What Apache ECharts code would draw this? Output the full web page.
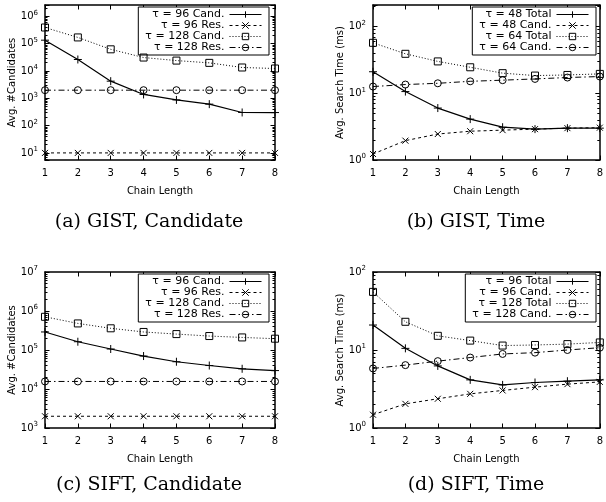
<!DOCTYPE html>
<html>
<head>
<meta charset="utf-8">
<script src="https://cdn.jsdelivr.net/npm/echarts@6/dist/echarts.min.js"></script>
<style>
  html, body { margin: 0; padding: 0; background: #fff; }
  #chart { width: 606px; height: 502px; }
</style>
</head>
<body>
<div id="chart"></div>
<script>
  var chainLength = ['1', '2', '3', '4', '5', '6', '7', '8'];

  // (a) GIST, Candidate
  var gistCand96 = [134000, 26300, 4230, 1380, 870, 610, 302, 300];
  var gistRes96 = [10, 10, 10, 10, 10, 10, 10, 10];
  var gistCand128 = [390000, 169000, 62000, 31000, 24000, 19800, 13400, 12300];
  var gistRes128 = [1980, 1980, 1980, 1980, 1980, 1980, 1980, 1980];

  // (b) GIST, Time (ms)
  var gistTotal48 = [21, 10.6, 6.0, 4.1, 3.1, 2.9, 3.0, 3.0];
  var gistCandT48 = [1.23, 1.95, 2.45, 2.7, 2.8, 2.9, 3.0, 3.05];
  var gistTotal64 = [57, 39, 30, 24.5, 20, 18.4, 18.8, 19.5];
  var gistCandT64 = [12.6, 13.5, 14.1, 15.1, 15.7, 16.4, 17.2, 17.8];

  // (c) SIFT, Candidate
  var siftCand96 = [290000, 163000, 106000, 70000, 50000, 40000, 33000, 29700];
  var siftRes96 = [2000, 2000, 2000, 2000, 2000, 2000, 2000, 2000];
  var siftCand128 = [710000, 480000, 360000, 290000, 256000, 228000, 210000, 195000];
  var siftRes128 = [15600, 15600, 15600, 15600, 15600, 15600, 15600, 15600];

  // (d) SIFT, Time (ms)
  var siftTotal96 = [20.9, 10.5, 6.25, 4.14, 3.57, 3.83, 3.98, 4.14];
  var siftCandT96 = [1.48, 2.04, 2.37, 2.74, 3.03, 3.34, 3.65, 3.9];
  var siftTotal128 = [55.6, 23, 15.2, 13.2, 11.4, 11.6, 11.9, 12.5];
  var siftCandT128 = [5.8, 6.4, 7.2, 8.0, 8.9, 9.25, 10, 10.7];

  var sans = '"DejaVu Sans", sans-serif';
  var serif = '"DejaVu Serif", serif';

  // gnuplot-like point types: +, x, open square, open circle
  var marks = [
    { symbol: 'path://M0,5H10M5,0V10', size: 8, dash: 'solid', width: 1.2 },
    { symbol: 'path://M0,0L10,10M10,0L0,10', size: 6, dash: [3, 3], width: 1 },
    { symbol: 'path://M0,0H10V10H0Z', size: 7, dash: [1, 2], width: 1 },
    { symbol: 'path://M5,0A5,5,0,1,1,5,10A5,5,0,1,1,5,0Z', size: 7, dash: [6, 3, 1.5, 3], width: 1 }
  ];

  var panels = [
    {
      key: 'a', caption: '(a) GIST, Candidate', yName: 'Avg. #Candidates',
      min: 5.5, max: 2.6e6, grid: { left: 45, top: 5, width: 230, height: 155 },
      legendRight: 337, legendTop: 7, capX: 149, capY: 222,
      names: ['τ = 96 Cand.', 'τ = 96 Res.', 'τ = 128 Cand.', 'τ = 128 Res.'],
      values: [gistCand96, gistRes96, gistCand128, gistRes128]
    },
    {
      key: 'b', caption: '(b) GIST, Time', yName: 'Avg. Search Time (ms)',
      min: 1, max: 210, grid: { left: 373, top: 5, width: 230, height: 155 },
      legendRight: 10, legendTop: 7, capX: 476, capY: 222,
      names: ['τ = 48 Total', 'τ = 48 Cand.', 'τ = 64 Total', 'τ = 64 Cand.'],
      values: [gistTotal48, gistCandT48, gistTotal64, gistCandT64]
    },
    {
      key: 'c', caption: '(c) SIFT, Candidate', yName: 'Avg. #Candidates',
      min: 1000, max: 1e7, grid: { left: 45, top: 272, width: 230, height: 156 },
      legendRight: 337, legendTop: 274, capX: 149, capY: 485,
      names: ['τ = 96 Cand.', 'τ = 96 Res.', 'τ = 128 Cand.', 'τ = 128 Res.'],
      values: [siftCand96, siftRes96, siftCand128, siftRes128]
    },
    {
      key: 'd', caption: '(d) SIFT, Time', yName: 'Avg. Search Time (ms)',
      min: 1, max: 100, grid: { left: 373, top: 272, width: 230, height: 156 },
      legendRight: 10, legendTop: 274, capX: 476, capY: 485,
      names: ['τ = 96 Total', 'τ = 96 Cand.', 'τ = 128 Total', 'τ = 128 Cand.'],
      values: [siftTotal96, siftCandT96, siftTotal128, siftCandT128]
    }
  ];

  function powLabel(v) {
    var e = Math.round(Math.log10(v));
    if (Math.abs(Math.log10(v) - e) > 1e-6) return '';
    return '{b|10}{s|' + e + '}';
  }

  var frame = { show: true, lineStyle: { color: '#000', width: 1.5 } };
  var grids = [], xAxes = [], yAxes = [], series = [], legends = [], graphics = [];

  panels.forEach(function (p, i) {
    grids.push(Object.assign({ containLabel: false }, p.grid));

    // bottom + mirrored top x axis
    ['bottom', 'top'].forEach(function (pos) {
      xAxes.push({
        type: 'category', gridIndex: i, position: pos, data: chainLength, boundaryGap: false,
        name: pos === 'bottom' ? 'Chain Length' : '', nameLocation: 'middle', nameGap: 26,
        nameTextStyle: { fontFamily: sans, fontSize: 10, color: '#000' },
        axisLine: frame,
        axisTick: { show: true, inside: true, length: 4.5, interval: 0, lineStyle: { color: '#000' } },
        axisLabel: { show: pos === 'bottom', interval: 0, margin: 8, fontFamily: sans, fontSize: 10, color: '#000' },
        splitLine: { show: false }
      });
    });

    // left + mirrored right log axis
    ['left', 'right'].forEach(function (pos) {
      yAxes.push({
        type: 'log', logBase: 10, gridIndex: i, position: pos, min: p.min, max: p.max,
        name: pos === 'left' ? p.yName : '', nameLocation: 'middle', nameGap: 26,
        nameTextStyle: { fontFamily: sans, fontSize: 10, color: '#000' },
        axisLine: frame,
        axisTick: { show: true, inside: true, length: 4.5, lineStyle: { color: '#000' } },
        minorTick: { show: true, splitNumber: 9, length: 2.5, lineStyle: { color: '#000' } },
        axisLabel: {
          show: pos === 'left', margin: 7, formatter: powLabel,
          rich: {
            b: { fontFamily: sans, fontSize: 10, lineHeight: 14, color: '#000' },
            s: { fontFamily: sans, fontSize: 7, lineHeight: 8, verticalAlign: 'top', color: '#000' }
          }
        },
        splitLine: { show: false }
      });
    });

    p.names.forEach(function (n, j) {
      var m = marks[j];
      series.push({
        type: 'line', name: p.key + '|' + n, xAxisIndex: i * 2, yAxisIndex: i * 2,
        data: p.values[j],
        symbol: m.symbol, symbolSize: m.size, showSymbol: true,
        itemStyle: { color: 'transparent', borderColor: '#000', borderWidth: 1 },
        lineStyle: { color: '#000', width: m.width, type: m.dash },
        emphasis: { disabled: true },
        z: 3 + j
      });
    });

    legends.push({
      orient: 'vertical', right: p.legendRight, top: p.legendTop, align: 'right',
      itemWidth: 32, itemHeight: 8, itemGap: 0, padding: [2, 7, 2, 7],
      borderColor: '#000', borderWidth: 1, borderRadius: 0, backgroundColor: '#fff',
      selectedMode: false,
      itemStyle: { borderWidth: 1 },
      lineStyle: { width: 1 },
      textStyle: { fontFamily: sans, fontSize: 11, lineHeight: 10.5, color: '#000' },
      formatter: function (n) { return n.split('|')[1]; },
      data: p.names.map(function (n) { return p.key + '|' + n; })
    });

    graphics.push({
      type: 'text', x: p.capX, y: p.capY, silent: true,
      style: { text: p.caption, fontFamily: serif, fontSize: 19, fill: '#000', align: 'center', verticalAlign: 'middle' }
    });
  });

  var chart = echarts.init(document.getElementById('chart'));
  chart.setOption({
    animation: false,
    backgroundColor: '#fff',
    textStyle: { fontFamily: sans, color: '#000' },
    grid: grids,
    xAxis: xAxes,
    yAxis: yAxes,
    legend: legends,
    series: series,
    graphic: graphics
  });
</script>
</body>
</html>
